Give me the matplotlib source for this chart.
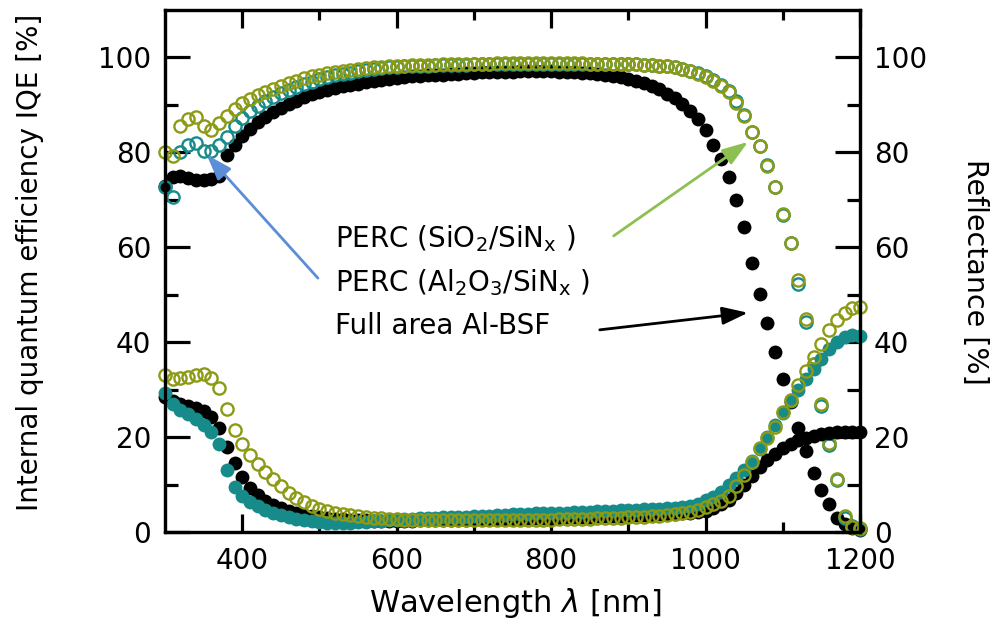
import matplotlib
matplotlib.use("Agg")
import matplotlib.pyplot as plt
import numpy as np

plt.rcParams['font.family'] = ['DejaVu Sans']
plt.rcParams['mathtext.fontset'] = 'dejavusans'

wavelength = list(range(300, 1201, 10))

# Internal quantum efficiency [%]
bsf_iqe = [73.0, 74.8, 75.0, 74.5, 74.2, 74.2, 74.3, 75.0, 79.5, 81.5,
           83.5, 85.0, 86.3, 87.5, 88.5, 89.4, 90.2, 90.9, 91.6, 92.2,
           92.7, 93.2, 93.6, 93.9, 94.2, 94.5, 94.8, 95.0, 95.2, 95.4,
           95.6, 95.8, 96.0, 96.1, 96.2, 96.3, 96.4, 96.5, 96.6, 96.7,
           96.8, 96.9, 96.9, 97.0, 97.0, 97.0, 97.1, 97.1, 97.1, 97.1,
           97.1, 97.0, 97.0, 96.9, 96.8, 96.7, 96.5, 96.3, 96.1, 95.8,
           95.5, 95.1, 94.6, 94.0, 93.3, 92.4, 91.4, 90.2, 88.8, 87.0,
           84.8, 81.6, 78.6, 74.8, 70.0, 64.3, 56.7, 50.2, 44.0, 38.0,
           32.3, 27.3, 22.0, 17.0, 12.4, 8.8, 5.8, 3.0, 1.7, 0.9,
           0.4]
al_iqe = [72.7, 70.6, 80.0, 81.5, 82.0, 80.2, 80.3, 81.5, 83.3, 85.5,
          87.3, 88.7, 89.8, 90.8, 91.7, 92.5, 93.2, 93.8, 94.4, 94.9,
          95.4, 95.8, 96.2, 96.5, 96.8, 97.1, 97.3, 97.5, 97.7, 97.9,
          98.0, 98.1, 98.2, 98.3, 98.3, 98.4, 98.4, 98.5, 98.5, 98.5,
          98.6, 98.6, 98.6, 98.6, 98.6, 98.7, 98.7, 98.7, 98.7, 98.7,
          98.7, 98.7, 98.7, 98.7, 98.7, 98.7, 98.7, 98.7, 98.6, 98.6,
          98.6, 98.6, 98.5, 98.4, 98.3, 98.1, 97.9, 97.6, 97.2, 96.7,
          96.0, 95.2, 94.2, 93.0, 90.8, 87.9, 84.3, 81.4, 77.3, 72.8,
          66.8, 60.8, 52.2, 44.2, 35.3, 26.6, 18.3, 10.9, 3.0, 1.2,
          0.7]
sio_iqe = [80.0, 79.3, 85.5, 87.0, 87.5, 85.5, 84.8, 86.2, 87.6, 89.2,
           90.3, 91.3, 92.0, 92.7, 93.4, 94.0, 94.6, 95.1, 95.6, 96.0,
           96.4, 96.7, 97.0, 97.2, 97.4, 97.6, 97.8, 97.9, 98.0, 98.1,
           98.2, 98.3, 98.4, 98.4, 98.5, 98.5, 98.6, 98.6, 98.6, 98.7,
           98.7, 98.7, 98.7, 98.8, 98.8, 98.8, 98.8, 98.8, 98.8, 98.8,
           98.8, 98.8, 98.8, 98.8, 98.8, 98.7, 98.7, 98.7, 98.7, 98.7,
           98.6, 98.6, 98.5, 98.4, 98.3, 98.1, 97.9, 97.5, 97.1, 96.5,
           95.8, 95.0, 94.0, 92.8, 90.5, 87.7, 84.2, 81.3, 77.2, 72.8,
           67.0, 61.0, 53.0, 44.8, 35.5, 27.0, 18.7, 11.2, 3.4, 1.0,
           0.8]

# Reflectance [%]
bsf_r = [28.5, 27.5, 27.0, 26.6, 26.2, 25.5, 24.3, 22.0, 18.0, 14.5,
         11.5, 9.3, 7.8, 6.6, 5.7, 5.0, 4.4, 4.0, 3.6, 3.3,
         3.1, 2.9, 2.8, 2.7, 2.6, 2.5, 2.5, 2.4, 2.4, 2.4,
         2.4, 2.4, 2.4, 2.5, 2.5, 2.5, 2.5, 2.6, 2.6, 2.6,
         2.6, 2.7, 2.7, 2.7, 2.8, 2.8, 2.8, 2.9, 2.9, 3.0,
         3.0, 3.0, 3.1, 3.1, 3.2, 3.2, 3.3, 3.3, 3.4, 3.4,
         3.5, 3.5, 3.6, 3.6, 3.7, 3.8, 3.8, 3.9, 4.0, 4.2,
         4.5, 5.0, 5.8, 6.8, 8.2, 10.0, 11.9, 13.7, 15.2, 16.5,
         17.6, 18.6, 19.3, 19.9, 20.3, 20.6, 20.9, 21.0, 21.1, 21.1,
         21.0]
al_r = [29.3, 27.0, 25.8, 24.8, 23.8, 22.5, 21.0, 18.5, 13.0, 9.4,
        7.5, 6.3, 5.4, 4.6, 4.0, 3.5, 3.1, 2.8, 2.5, 2.3,
        2.1, 2.0, 2.0, 2.0, 2.0, 2.1, 2.2, 2.3, 2.4, 2.5,
        2.6, 2.7, 2.8, 2.9, 2.9, 3.0, 3.1, 3.1, 3.2, 3.2,
        3.3, 3.4, 3.4, 3.5, 3.6, 3.7, 3.7, 3.8, 3.9, 3.9,
        4.0, 4.0, 4.1, 4.2, 4.2, 4.3, 4.4, 4.4, 4.5, 4.6,
        4.7, 4.7, 4.8, 4.9, 4.9, 5.0, 5.1, 5.3, 5.5, 6.0,
        6.8, 7.4, 8.5, 9.8, 11.3, 13.0, 15.0, 17.5, 20.0, 22.5,
        25.0, 27.5, 30.0, 32.3, 34.4, 36.5, 38.5, 40.0, 41.0, 41.5,
        41.3]
sio_r = [33.0, 32.3, 32.4, 32.7, 33.0, 33.2, 32.5, 30.3, 26.0, 21.5,
         18.5, 16.2, 14.3, 12.7, 11.2, 9.7, 8.3, 7.2, 6.3, 5.5,
         4.9, 4.4, 4.0, 3.7, 3.5, 3.3, 3.1, 3.0, 2.9, 2.8,
         2.7, 2.6, 2.6, 2.6, 2.5, 2.5, 2.5, 2.5, 2.5, 2.5,
         2.5, 2.5, 2.5, 2.5, 2.5, 2.5, 2.6, 2.6, 2.6, 2.6,
         2.6, 2.7, 2.7, 2.7, 2.8, 2.8, 2.9, 2.9, 3.0, 3.0,
         3.1, 3.2, 3.2, 3.3, 3.4, 3.5, 3.7, 3.9, 4.2, 4.6,
         5.2, 5.8, 6.6, 7.6, 9.6, 12.0, 14.8, 17.8, 19.8, 22.2,
         25.2, 27.8, 31.0, 33.9, 36.8, 39.6, 42.5, 44.7, 46.2, 47.1,
         47.4]

x_major = [400, 600, 800, 1000, 1200]
x_minor = [500, 700, 900, 1100]
y_major = [0, 20, 40, 60, 80, 100]
y_minor = [10, 30, 50, 70, 90]

labels = ["PERC (SiO$_\\mathregular{2}$/SiN$_\\mathregular{x}$ )",
          "PERC (Al$_\\mathregular{2}$O$_\\mathregular{3}$/SiN$_\\mathregular{x}$ )",
          "Full area Al-BSF"]

BLACK = '#000000'
TEAL = '#178a8a'
OLIVE = '#8c9a14'

fig = plt.figure(figsize=(9.97, 6.30), dpi=100)
ax = fig.add_axes([0.1655, 0.15556, 0.69709, 0.82857])
ax2 = ax.twinx()

common = dict(linestyle='none', marker='o', clip_on=False)
ax.plot(wavelength, bsf_iqe, ms=10, mfc=BLACK, mec=BLACK, mew=0, **common)
ax.plot(wavelength, al_iqe, ms=8.8, mfc='none', mec=TEAL, mew=1.7, **common)
ax.plot(wavelength, sio_iqe, ms=8.8, mfc='none', mec=OLIVE, mew=1.7, **common)

ax2.plot(wavelength, bsf_r, ms=10, mfc=BLACK, mec=BLACK, mew=0, **common)
ax2.plot(wavelength, al_r, ms=10, mfc=TEAL, mec=TEAL, mew=0, **common)
ax2.plot(wavelength, sio_r, ms=8.8, mfc='none', mec=OLIVE, mew=1.7, **common)

for a in (ax, ax2):
    a.set_xlim(300, 1200)
    a.set_ylim(0, 110)
    for s in a.spines.values():
        s.set_linewidth(2.3)

ax.set_xticks(x_major)
ax.set_xticks(x_minor, minor=True)
ax.set_yticks(y_major)
ax.set_yticks(y_minor, minor=True)
ax2.set_yticks(y_major)
ax2.set_yticks(y_minor, minor=True)

ax.tick_params(axis='x', which='both', direction='in', top=True, bottom=True,
               width=2.3, labelsize=20, pad=11)
ax.tick_params(axis='x', which='major', length=13)
ax.tick_params(axis='x', which='minor', length=7.2)
ax.tick_params(axis='y', which='both', direction='in', left=True, right=False,
               width=2.3, labelsize=20, pad=10)
ax.tick_params(axis='y', which='major', length=18)
ax.tick_params(axis='y', which='minor', length=9.4)
ax2.tick_params(axis='y', which='both', direction='in', right=True, left=False,
                width=2.3, labelsize=20, pad=10)
ax2.tick_params(axis='y', which='major', length=18)
ax2.tick_params(axis='y', which='minor', length=9.4)

fig.text(30/997, 1-262/630, "Internal quantum efficiency IQE [%]", rotation=90,
         ha='center', va='center', fontsize=20)
fig.text(975/997, 1-272/630, "Reflectance [%]", rotation=270,
         ha='center', va='center', fontsize=20.5)
fig.text(515/997, 1-603/630, "Wavelength $\\lambda$ [nm]",
         ha='center', va='center', fontsize=22)

ax2.text(520, 60.1, labels[0], fontsize=20, ha='left', va='baseline')
ax2.text(520, 50.8, labels[1], fontsize=20, ha='left', va='baseline')
ax2.text(520, 41.7, labels[2], fontsize=20, ha='left', va='baseline')

arrow = lambda c: dict(arrowstyle='-|>,head_length=1.3,head_width=0.45',
                       color=c, lw=2.0, mutation_scale=12,
                       shrinkA=0, shrinkB=0)
ax2.annotate('', xy=(354, 79.5), xytext=(498, 53.5), arrowprops=arrow('#5b8ed6'))
ax2.annotate('', xy=(1055, 82.2), xytext=(881, 62.4), arrowprops=arrow('#8cc152'))
ax2.annotate('', xy=(1055, 46.2), xytext=(863, 42.6), arrowprops=arrow('#000000'))

fig.savefig('out.png', dpi=100)
